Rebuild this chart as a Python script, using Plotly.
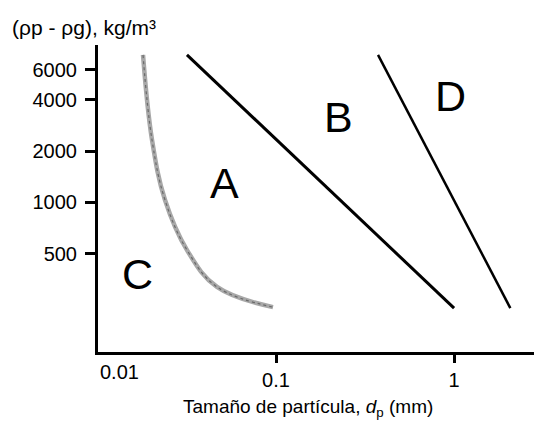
import numpy as np
import plotly.graph_objects as go

# Data
ab_x = [0.0316, 1.0]          # A/B boundary, particle size (mm)
ab_y = [7360, 239]            # density difference (kg/m3)
bd_x = [0.374, 2.07]          # B/D boundary
bd_y = [7360, 239]
ca_x = [0.0179, 0.02011, 0.02379, 0.03162, 0.04661, 0.09618]   # C/A boundary
ca_y = [7357, 2326, 1032, 524, 318, 242]

group_labels = ["A", "B", "C", "D"]
group_x = [0.0516, 0.223, 0.01656, 0.95]
group_y = [1300, 3175, 379, 4220]

x_tickvals = [0.1, 1]
x_ticktext = ["0.1", "1"]
y_tickvals = [500, 1000, 2000, 4000, 6000]
y_ticktext = ["500", "1000", "2000", "4000", "6000"]

FONT = "Liberation Sans, Arial, sans-serif"

fig = go.Figure()
fig.add_trace(go.Scatter(x=ca_x, y=ca_y, mode="lines",
                         line=dict(color="#a8a8a8", width=4.5, shape="spline", smoothing=1.1),
                         hoverinfo="skip"))
fig.add_trace(go.Scatter(x=ca_x, y=ca_y, mode="lines",
                         line=dict(color="#6a6a6a", width=1.2, shape="spline", smoothing=1.1,
                                   dash="dot"),
                         hoverinfo="skip"))
fig.add_trace(go.Scatter(x=ab_x, y=ab_y, mode="lines",
                         line=dict(color="black", width=3), hoverinfo="skip"))
fig.add_trace(go.Scatter(x=bd_x, y=bd_y, mode="lines",
                         line=dict(color="black", width=2.5), hoverinfo="skip"))

for lab, gx, gy in zip(group_labels, group_x, group_y):
    fig.add_annotation(x=np.log10(gx), y=np.log10(gy), xref="x", yref="y",
                       text=lab, showarrow=False,
                       font=dict(family=FONT, size=43, color="black"))

fig.add_annotation(x=-2, y=-0.065, xref="x", yref="paper", text="0.01",
                   showarrow=False, xanchor="left", yanchor="middle",
                   font=dict(family=FONT, size=20, color="black"))
fig.add_annotation(x=-0.2018, y=1.0586, xref="paper", yref="paper",
                   text="(ρp - ρg), kg/m³", showarrow=False,
                   xanchor="left", yanchor="middle",
                   font=dict(family=FONT, size=21, color="black"))
fig.add_annotation(x=0.482, y=-0.182, xref="paper", yref="paper",
                   text="Tamaño de partícula, <i>d</i><sub>p</sub> (mm)",
                   showarrow=False, xanchor="center", yanchor="middle",
                   font=dict(family=FONT, size=19, color="black"))

fig.update_layout(
    width=534, height=423,
    margin=dict(l=98, r=0, t=45, b=71),
    paper_bgcolor="white", plot_bgcolor="white",
    showlegend=False,
    font=dict(family=FONT, size=20, color="black"),
)
fig.update_xaxes(type="log", range=[-2, 0.449],
                 tickvals=x_tickvals, ticktext=x_ticktext,
                 showgrid=False, zeroline=False,
                 showline=True, linecolor="black", linewidth=3,
                 ticks="outside", ticklen=8, tickwidth=3, tickcolor="black",
                 tickfont=dict(family=FONT, size=20, color="black"))
fig.update_yaxes(type="log", range=[2.12, 3.925],
                 tickvals=y_tickvals, ticktext=y_ticktext,
                 showgrid=False, zeroline=False,
                 showline=True, linecolor="black", linewidth=3,
                 ticks="outside", ticklen=10, tickwidth=3, tickcolor="black",
                 ticklabelstandoff=4,
                 tickfont=dict(family=FONT, size=20, color="black"))

fig.write_html("out.html")
